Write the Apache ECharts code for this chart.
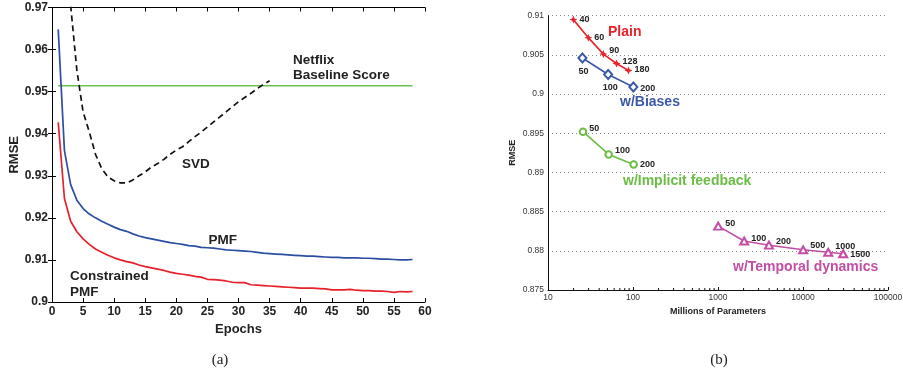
<!DOCTYPE html>
<html>
<head>
<meta charset="utf-8">
<script src="https://cdn.jsdelivr.net/npm/echarts@6/dist/echarts.min.js"></script>
<style>
html,body{margin:0;padding:0;background:#fff;}
#chart{width:903px;height:374px;}
</style>
</head>
<body>
<div id="chart"></div>
<script>
// ---------- Panel (a) data ----------
const epochs = [1,2,3,4,5,6,7,8,9,10,11,12,13,14,15,16,17,18,19,20,21,22,23,24,25,26,27,28,29,30,
  31,32,33,34,35,36,37,38,39,40,41,42,43,44,45,46,47,48,49,50,51,52,53,54,55,56,57,58];
const pmfRmse = [0.9648,0.9360,0.9279,0.9242,0.9222,0.9209,0.9200,0.9192,0.9185,0.9178,
  0.9172,0.9168,0.9162,0.9157,0.9153,0.9150,0.9147,0.9144,0.9141,0.9139,
  0.9137,0.9134,0.9133,0.9130,0.9129,0.9128,0.9126,0.9124,0.9123,0.9122,
  0.9121,0.9120,0.9118,0.9116,0.9115,0.9114,0.9113,0.9112,0.9111,0.9110,
  0.9109,0.9109,0.9108,0.9107,0.9106,0.9106,0.9105,0.9105,0.9105,0.9104,
  0.9104,0.9103,0.9102,0.9102,0.9101,0.9100,0.9100,0.9101];
const constrainedRmse = [0.9427,0.9246,0.9192,0.9167,0.9150,0.9137,0.9126,0.9118,0.9111,0.9105,
  0.9100,0.9096,0.9093,0.9088,0.9084,0.9081,0.9078,0.9075,0.9071,0.9068,
  0.9066,0.9064,0.9061,0.9059,0.9054,0.9053,0.9052,0.9050,0.9047,0.9046,
  0.9046,0.9041,0.9040,0.9039,0.9038,0.9037,0.9036,0.9035,0.9034,0.9033,
  0.9033,0.9033,0.9032,0.9031,0.9029,0.9029,0.9029,0.9030,0.9028,0.9027,
  0.9027,0.9026,0.9026,0.9025,0.9023,0.9025,0.9024,0.9025];
const svdEpochs = [3,4,5,6,7,8,9,10,11,12,13,14,15,16,17,18,19,20,21,22,23,24,25,26,27,28,29,30,31,32,33,34,35];
const svdRmse = [0.9705,0.9551,0.9452,0.9404,0.9351,0.9317,0.9297,0.9288,0.9283,0.9283,
  0.9290,0.9300,0.9309,0.9321,0.9329,0.9339,0.9351,0.9361,0.9369,0.9381,
  0.9393,0.9404,0.9416,0.9428,0.9440,0.9452,0.9464,0.9476,0.9486,0.9496,
  0.9507,0.9517,0.9526];
const baselineEpochs = [1, 58];
const baselineScore = 0.9514;

// ---------- Panel (b) data ----------
const plainParams = [19.9, 29.8, 44.8, 64.0, 88.5];
const plainRmse = [0.9095, 0.9072, 0.9051, 0.9039, 0.9030];
const plainFactors = ['40','60','90','128','180'];
const biasParams = [25.4, 51.0, 101];
const biasRmse = [0.9046, 0.9025, 0.9009];
const biasFactors = ['50','100','200'];
const implicitParams = [25.8, 51.7, 101.8];
const implicitRmse = [0.8952, 0.8923, 0.8910];
const implicitFactors = ['50','100','200'];
const temporalParams = [1005, 2030, 3980, 10050, 19800, 29700];
const temporalRmse = [0.88315, 0.88125, 0.88072, 0.88013, 0.87981, 0.87962];
const temporalFactors = ['50','100','200','500','1000','1500'];
const minorTickValues = [20,30,40,50,60,70,80,90,200,300,400,500,600,700,800,900,
  2000,3000,4000,5000,6000,7000,8000,9000,20000,30000,40000,50000,60000,70000,80000,90000];

const FONT = "'Liberation Sans', Arial, Helvetica, sans-serif";
const chart = echarts.init(document.getElementById('chart'), null, {renderer: 'canvas'});

function zip(xs, ys) { return xs.map((x, i) => [x, ys[i]]); }

function withLabels(xs, ys, names, placements) {
  return xs.map((x, i) => ({
    value: [x, ys[i]],
    label: Object.assign({formatter: names[i]}, placements[i])
  }));
}

const ptLabel = {show: true, fontSize: 9, fontWeight: 'bold', color: '#222', fontFamily: FONT, distance: 2};
const R = (dy) => ({position: 'right', offset: [0, dy]});
const B = (dx) => ({position: 'bottom', offset: [dx, 1]});

const frameAxisLine = {show: true, lineStyle: {color: '#000', width: 1}};
const leftTickLabel = {fontSize: 12, fontWeight: 'bold', color: '#222', fontFamily: FONT};

const option = {
  animation: false,
  backgroundColor: '#fff',
  grid: [
    {left: 52, top: 7.5, right: 478, bottom: 72, outerBoundsMode: 'none'},
    {left: 548, top: 15.7, right: 15, bottom: 84, outerBoundsMode: 'none'}
  ],
  xAxis: [
    {gridIndex: 0, type: 'value', min: 0, max: 60, interval: 5, position: 'bottom',
     axisLine: frameAxisLine, axisTick: {show: true, inside: true, length: 4, lineStyle: {color: '#000'}},
     axisLabel: Object.assign({margin: 4}, leftTickLabel), splitLine: {show: false},
     name: 'Epochs', nameLocation: 'middle', nameGap: 16,
     nameTextStyle: {fontSize: 13, fontWeight: 'bold', color: '#222', fontFamily: FONT}},
    {gridIndex: 0, type: 'value', min: 0, max: 60, interval: 5, position: 'top',
     axisLine: frameAxisLine, axisTick: {show: true, inside: true, length: 4, lineStyle: {color: '#000'}},
     axisLabel: {show: false}, splitLine: {show: false}},
    {gridIndex: 1, type: 'log', logBase: 10, min: 10, max: 100000,
     axisLine: {show: true, lineStyle: {color: '#111', width: 1}},
     axisTick: {show: true, inside: true, length: 3, lineStyle: {color: '#111'}},
     axisLabel: {fontSize: 8.5, color: '#333', fontFamily: FONT, margin: 3,
                 formatter: (v) => String(Math.round(v))},
     splitLine: {show: false},
     name: 'Millions of Parameters', nameLocation: 'middle', nameGap: 14,
     nameTextStyle: {fontSize: 9, fontWeight: 'bold', color: '#222', fontFamily: FONT}}
  ],
  yAxis: [
    {gridIndex: 0, type: 'value', min: 0.9, max: 0.97, interval: 0.01, position: 'left',
     axisLine: frameAxisLine, axisTick: {show: true, inside: true, length: 4, lineStyle: {color: '#000'}},
     axisLabel: Object.assign({margin: 4}, leftTickLabel), splitLine: {show: false},
     name: 'RMSE', nameLocation: 'middle', nameGap: 30,
     nameTextStyle: {fontSize: 13, fontWeight: 'bold', color: '#222', fontFamily: FONT}},
    {gridIndex: 0, type: 'value', min: 0.9, max: 0.97, interval: 0.01, position: 'right',
     axisLine: frameAxisLine, axisTick: {show: true, inside: true, length: 4, lineStyle: {color: '#000'}},
     axisLabel: {show: false}, splitLine: {show: false}},
    {gridIndex: 1, type: 'value', min: 0.875, max: 0.91, interval: 0.005,
     axisLine: {show: true, lineStyle: {color: '#111', width: 1}},
     axisTick: {show: false},
     axisLabel: {fontSize: 8.5, color: '#333', fontFamily: FONT, margin: 4},
     splitLine: {show: true, lineStyle: {color: '#888', type: [1, 3], width: 1}},
     name: 'RMSE', nameLocation: 'middle', nameGap: 31,
     nameTextStyle: {fontSize: 9, fontWeight: 'bold', color: '#222', fontFamily: FONT}}
  ],
  series: [
    {type: 'line', xAxisIndex: 0, yAxisIndex: 0, data: zip(baselineEpochs, baselineEpochs.map(() => baselineScore)),
     symbol: 'none', lineStyle: {color: '#6cc24a', width: 1.7}, z: 2},
    {type: 'line', xAxisIndex: 0, yAxisIndex: 0, data: zip(svdEpochs, svdRmse),
     symbol: 'none', clip: true, lineStyle: {color: '#111', width: 1.7, type: [6, 4]}, z: 3},
    {type: 'line', xAxisIndex: 0, yAxisIndex: 0, data: zip(epochs, pmfRmse),
     symbol: 'none', lineStyle: {color: '#2b4ea3', width: 1.7}, z: 3},
    {type: 'line', xAxisIndex: 0, yAxisIndex: 0, data: zip(epochs, constrainedRmse),
     symbol: 'none', lineStyle: {color: '#e8202a', width: 1.7}, z: 3},

    {type: 'line', xAxisIndex: 2, yAxisIndex: 2,
     data: withLabels(plainParams, plainRmse, plainFactors, [R(0), R(0), R(-4), R(-2), R(-1)]),
     symbol: 'path://M0,-10L3,-3L10,0L3,3L0,10L-3,3L-10,0L-3,-3Z', symbolSize: 8,
     itemStyle: {color: '#e8232a'}, lineStyle: {color: '#e8232a', width: 1.6},
     label: ptLabel, z: 4},
    {type: 'line', xAxisIndex: 2, yAxisIndex: 2,
     data: withLabels(biasParams, biasRmse, biasFactors, [B(1), B(2), R(1)]),
     symbol: 'emptyDiamond', symbolSize: [8, 9],
     itemStyle: {color: '#3b58a8', borderWidth: 1.4}, lineStyle: {color: '#3b58a8', width: 1.6},
     label: ptLabel, z: 4},
    {type: 'line', xAxisIndex: 2, yAxisIndex: 2,
     data: withLabels(implicitParams, implicitRmse, implicitFactors, [R(-3), R(-4), R(0)]),
     symbol: 'emptyCircle', symbolSize: 6.5,
     itemStyle: {color: '#6bbd45', borderWidth: 1.4}, lineStyle: {color: '#6bbd45', width: 1.6},
     label: ptLabel, z: 4},
    {type: 'line', xAxisIndex: 2, yAxisIndex: 2,
     data: withLabels(temporalParams, temporalRmse, temporalFactors, [R(-3), R(-3), R(-4), R(-4), R(-6), R(1)]),
     symbol: 'emptyTriangle', symbolSize: [8, 7],
     itemStyle: {color: '#c24ea5', borderWidth: 1.4}, lineStyle: {color: '#c24ea5', width: 1.6},
     label: ptLabel, z: 4},
    {type: 'custom', xAxisIndex: 2, yAxisIndex: 2, silent: true, clip: false,
     data: minorTickValues.map((v) => [v, 0.875]),
     renderItem: (params, api) => {
       const p = api.coord([api.value(0), api.value(1)]);
       return {type: 'line', shape: {x1: p[0], y1: p[1], x2: p[0], y2: p[1] - 2},
               style: {stroke: '#111', lineWidth: 1}};
     }, z: 5}
  ],
  graphic: [
    {type: 'text', x: 293, y: 60, style: {text: 'Netflix', font: "bold 13.5px " + FONT, fill: '#222', verticalAlign: 'middle'}},
    {type: 'text', x: 293, y: 75.5, style: {text: 'Baseline Score', font: "bold 13.5px " + FONT, fill: '#222', verticalAlign: 'middle'}},
    {type: 'text', x: 182, y: 164.5, style: {text: 'SVD', font: "bold 13.5px " + FONT, fill: '#222', verticalAlign: 'middle'}},
    {type: 'text', x: 208.5, y: 240, style: {text: 'PMF', font: "bold 13.5px " + FONT, fill: '#222', verticalAlign: 'middle'}},
    {type: 'text', x: 70, y: 276, style: {text: 'Constrained', font: "bold 13.5px " + FONT, fill: '#222', verticalAlign: 'middle'}},
    {type: 'text', x: 70, y: 292.5, style: {text: 'PMF', font: "bold 13.5px " + FONT, fill: '#222', verticalAlign: 'middle'}},
    {type: 'text', x: 608, y: 32, style: {text: 'Plain', font: "bold 14px " + FONT, fill: '#e8232a', verticalAlign: 'middle'}},
    {type: 'text', x: 620, y: 102, style: {text: 'w/Biases', font: "bold 14px " + FONT, fill: '#3b58a8', verticalAlign: 'middle'}},
    {type: 'text', x: 623, y: 181.5, style: {text: 'w/Implicit feedback', font: "bold 14px " + FONT, fill: '#6bbd45', verticalAlign: 'middle'}},
    {type: 'text', x: 733, y: 267.5, style: {text: 'w/Temporal dynamics', font: "bold 14px " + FONT, fill: '#c24ea5', verticalAlign: 'middle'}},
    {type: 'text', x: 220, y: 360, style: {text: '(a)', font: "15px 'Liberation Serif', 'DejaVu Serif', serif", fill: '#222', align: 'center', verticalAlign: 'middle'}},
    {type: 'text', x: 719, y: 360, style: {text: '(b)', font: "15px 'Liberation Serif', 'DejaVu Serif', serif", fill: '#222', align: 'center', verticalAlign: 'middle'}}
  ]
};
chart.setOption(option);
</script>
</body>
</html>
